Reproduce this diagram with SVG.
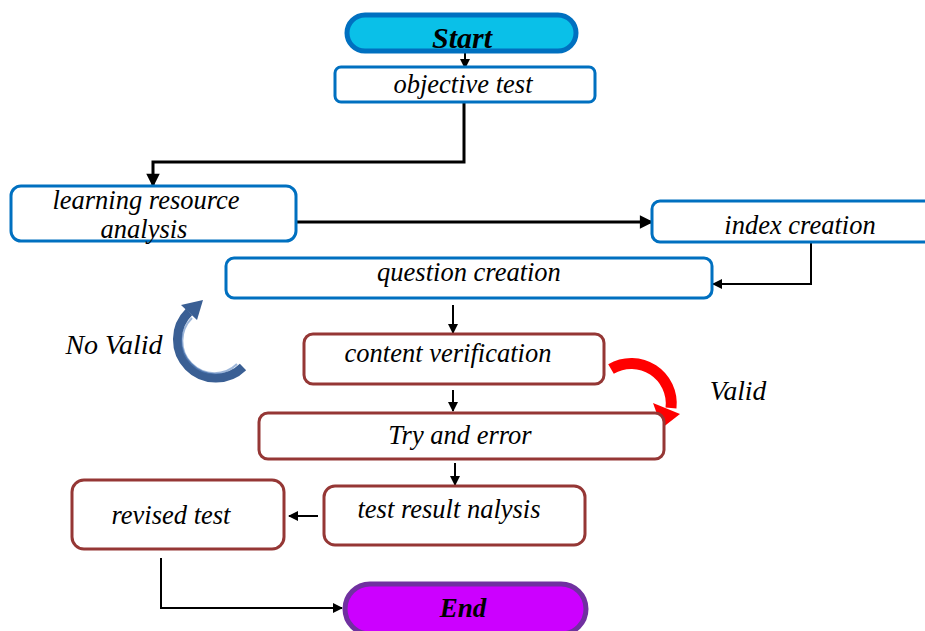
<svg xmlns="http://www.w3.org/2000/svg" width="925" height="631" viewBox="0 0 925 631">
<defs>
<style>
.t{font-family:"Liberation Serif","Times New Roman",serif;font-style:italic;font-size:26.5px;fill:#000;text-anchor:middle}
.tb{font-family:"Liberation Serif","Times New Roman",serif;font-style:italic;font-weight:bold;font-size:27px;fill:#000;text-anchor:middle}
.bb{fill:#fff;stroke:#0070c0;stroke-width:3}
.rb{fill:#fff;stroke:#953735;stroke-width:3}
.c{fill:none;stroke:#000;stroke-width:3}
.c2{fill:none;stroke:#000;stroke-width:2}
</style>
<marker id="ah" viewBox="0 0 10 10" refX="9" refY="5" markerWidth="5" markerHeight="4.5" orient="auto" markerUnits="strokeWidth">
<path d="M0,0 L10,5 L0,10 z" fill="#000"/>
</marker>
<marker id="ah2" viewBox="0 0 10 10" refX="9" refY="5" markerWidth="5" markerHeight="5" orient="auto" markerUnits="strokeWidth">
<path d="M0,0 L10,5 L0,10 z" fill="#000"/>
</marker>
</defs>
<rect width="925" height="631" fill="#fff"/>

<g id="connectors">
<path class="c2" d="M465,42 V68" marker-end="url(#ah2)"/>
<path class="c" d="M464,102 V162 H153 V186" marker-end="url(#ah)"/>
<path class="c" d="M296,222 H652" marker-end="url(#ah)"/>
<path class="c2" d="M811,243 V284 H713" marker-end="url(#ah2)"/>
<path class="c2" d="M453,305 V333" marker-end="url(#ah2)"/>
<path class="c2" d="M453,390 V411" marker-end="url(#ah2)"/>
<path class="c2" d="M455,463 V485" marker-end="url(#ah2)"/>
<path class="c2" d="M318,516 H289" marker-end="url(#ah2)"/>
<path class="c2" d="M161,558 V608 H342" marker-end="url(#ah2)"/>
<g id="no-valid-arrow">
<path d="M243,367 A37,37 0 1 1 189,312" fill="none" stroke="#3a5f94" stroke-width="9"/>
<path d="M237,364 A31,31 0 1 1 192,318" fill="none" stroke="#5b86c0" stroke-width="2" opacity="0.6"/>
<path d="M203,300 L197,320 L181,305 z" fill="#3a5f94"/>
</g>
<g id="valid-arrow">
<path d="M611,369 A40,40 0 0 1 671,408" fill="none" stroke="#ff0000" stroke-width="11"/>
<path d="M662,428 L653,403 L680,414 z" fill="#ff0000"/>
</g>
</g>

<g id="start">
<rect x="347" y="15" width="229" height="36" rx="18" fill="#0ac0e8" stroke="#0070c0" stroke-width="5"/>
<text class="tb" x="462" y="48" style="font-size:30px">Start</text>
</g>
<g id="objective-test">
<rect class="bb" x="335" y="67" width="260" height="35" rx="6"/>
<text class="t" x="463" y="93">objective test</text>
</g>
<g id="learning-resource-analysis">
<rect class="bb" x="11" y="186" width="285" height="55" rx="10"/>
<text class="t" x="146" y="209">learning resource</text>
<text class="t" x="144" y="238">analysis</text>
</g>
<g id="index-creation">
<rect class="bb" x="652" y="201" width="290" height="41" rx="8"/>
<text class="t" x="800" y="234">index creation</text>
</g>
<g id="question-creation">
<rect class="bb" x="226" y="258" width="486" height="40" rx="8"/>
<text class="t" x="469" y="281">question creation</text>
</g>
<g id="no-valid">
<text class="t" x="114" y="354" style="font-size:28px">No Valid</text>
</g>
<g id="content-verification">
<rect class="rb" x="304" y="334" width="300" height="50" rx="9"/>
<text class="t" x="448" y="362">content verification</text>
</g>
<g id="valid">
<text class="t" x="738" y="400" style="font-size:27.5px">Valid</text>
</g>
<g id="try-and-error">
<rect class="rb" x="259" y="413" width="405" height="46" rx="9"/>
<text class="t" x="460" y="444">Try and error</text>
</g>
<g id="test-result-nalysis">
<rect class="rb" x="324" y="486" width="261" height="59" rx="11"/>
<text class="t" x="449" y="518">test result nalysis</text>
</g>
<g id="revised-test">
<rect class="rb" x="72" y="480" width="212" height="69" rx="12"/>
<text class="t" x="171" y="524">revised test</text>
</g>
<g id="end">
<rect x="345" y="584" width="241" height="50" rx="25" fill="#cc00ff" stroke="#7030a0" stroke-width="5"/>
<text class="tb" x="463" y="617">End</text>
</g>
</svg>
